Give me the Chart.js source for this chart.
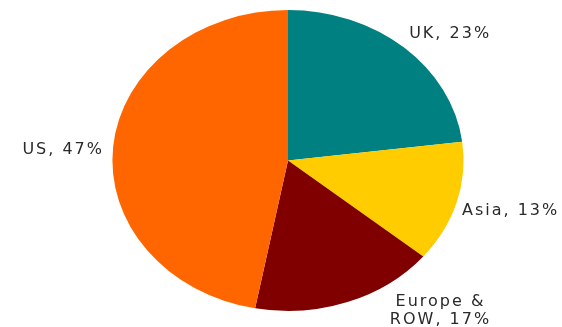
<!DOCTYPE html>
<html>
<head>
<meta charset="utf-8">
<script src="https://cdn.jsdelivr.net/npm/chart.js@4"></script>
<style>
  html, body { margin: 0; background: #fff; }
  #wrap { width: 562px; height: 327px; }
</style>
</head>
<body>
<div id="wrap"><canvas id="pie"></canvas></div>
<script>
const regions = ['UK', 'Asia', 'Europe &\nROW', 'US'];
const shares = [23, 13, 17, 47];
const colors = ['#008080', '#FFCC00', '#800000', '#FF6600'];

// pie is drawn as a circle and then stretched sideways into an oval
const stretchX = 175 / 150;

const ovalPie = {
    id: 'ovalPie',
    beforeDatasetsDraw(chart) {
        const arc = chart.getDatasetMeta(0).data[0];
        const ctx = chart.ctx;
        ctx.save();
        ctx.translate(arc.x, arc.y);
        ctx.scale(stretchX, 1);
        ctx.translate(-arc.x, -arc.y);
    },
    afterDatasetsDraw(chart) {
        chart.ctx.restore();
    }
};

// "Region, nn%" text placed off the rim of each slice
const sliceLabels = {
    id: 'sliceLabels',
    afterDraw(chart, args, opts) {
        const ctx = chart.ctx;
        ctx.save();
        ctx.font = opts.font;
        ctx.letterSpacing = opts.spacing;
        ctx.fillStyle = opts.color;
        ctx.textAlign = 'center';
        ctx.textBaseline = 'middle';
        chart.getDatasetMeta(0).data.forEach((arc, i) => {
            const mid = (arc.startAngle + arc.endAngle) / 2;
            const nudge = opts.nudge[i];
            const x = arc.x + Math.cos(mid) * arc.outerRadius * stretchX + nudge[0];
            const y = arc.y + Math.sin(mid) * arc.outerRadius + nudge[1];
            const lines = (regions[i] + ', ' + shares[i] + '%').split('\n');
            const top = y - (lines.length - 1) * opts.lineHeight / 2;
            lines.forEach((line, j) => {
                ctx.fillText(line, x, top + j * opts.lineHeight);
            });
        });
        ctx.restore();
    }
};

new Chart(document.getElementById('pie').getContext('2d'), {
    type: 'pie',
    data: {
        labels: regions,
        datasets: [{
            data: shares,
            backgroundColor: colors,
            borderWidth: 0
        }]
    },
    options: {
        responsive: true,
        maintainAspectRatio: false,
        animation: false,
        layout: { padding: { top: 10, bottom: 16, left: 100, right: 86 } },
        plugins: {
            legend: { display: false },
            tooltip: { enabled: false },
            sliceLabels: {
                font: '16px "DejaVu Sans"',
                spacing: '2px',
                color: '#2a2a2a',
                lineHeight: 18,
                nudge: [[46, -13.5], [54, 8], [93, 9], [-50, 4]]
            }
        }
    },
    plugins: [ovalPie, sliceLabels]
});
</script>
</body>
</html>
